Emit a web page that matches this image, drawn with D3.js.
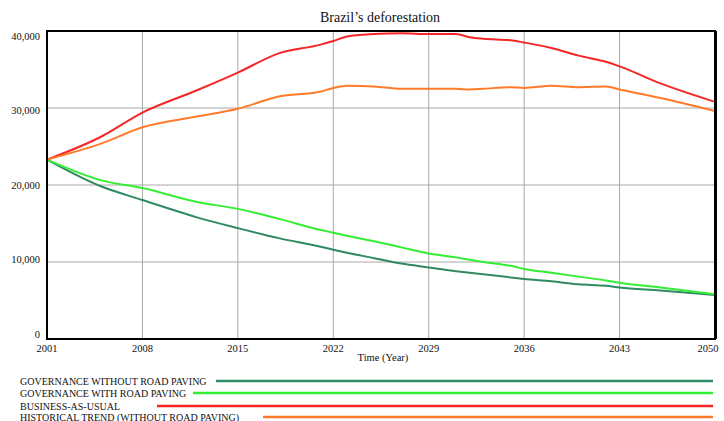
<!DOCTYPE html>
<html>
<head>
<meta charset="utf-8">
<script src="https://cdn.jsdelivr.net/npm/d3@7"></script>
<style>
  body { margin: 0; background: #fff; }
</style>
</head>
<body>
<svg id="chart" width="724" height="421"></svg>
<script>
// years (not every year, just where the curves bend)
const years = [2001, 2005, 2008, 2012, 2015, 2018, 2021, 2022, 2023, 2025, 2027, 2029,
  2031, 2032, 2033, 2035, 2036, 2038, 2040, 2042, 2043, 2046, 2050];

// thousands of ha
const govNoPaving = [23.3, 19.8, 18.05, 15.8, 14.4, 13.1, 12.0, 11.6, 11.2, 10.5, 9.8, 9.3,
  8.8, 8.6, 8.4, 8.0, 7.8, 7.5, 7.1, 6.9, 6.7, 6.3, 5.7];
const govPaving = [23.3, 20.6, 19.6, 17.8, 16.9, 15.6, 14.2, 13.8, 13.4, 12.7, 11.9, 11.1,
  10.6, 10.3, 10.0, 9.5, 9.1, 8.6, 8.1, 7.6, 7.3, 6.7, 5.8];
const businessAsUsual = [23.3, 26.3, 29.4, 32.3, 34.6, 37.1, 38.2, 38.7, 39.3, 39.6, 39.7, 39.6,
  39.6, 39.2, 39.0, 38.8, 38.5, 37.8, 36.8, 36.0, 35.4, 33.2, 30.8];
const historicalTrend = [23.3, 25.4, 27.5, 28.9, 29.9, 31.5, 32.1, 32.6, 32.9, 32.8, 32.5, 32.5,
  32.5, 32.4, 32.5, 32.7, 32.6, 32.9, 32.7, 32.8, 32.4, 31.3, 29.6];

const seriesNames = [
  "GOVERNANCE WITHOUT ROAD PAVING",
  "GOVERNANCE WITH ROAD PAVING",
  "BUSINESS-AS-USUAL",
  "HISTORICAL TREND (WITHOUT ROAD PAVING)"
];
const seriesValues = [govNoPaving, govPaving, businessAsUsual, historicalTrend];
const seriesColors = ["#2f8a62", "#33ee33", "#f62626", "#ff7b2a"];

const xTicks = [2001, 2008, 2015, 2022, 2029, 2036, 2043, 2050];
const yTicks = [0, 10000, 20000, 30000, 40000];

const svg = d3.select("#chart")
  .attr("font-family", "'Liberation Serif', 'Times New Roman', 'DejaVu Serif', serif")
  .attr("fill", "#111");
const pLeft = 47, pRight = 715, pTop = 31, pBottom = 339;

const x = d3.scaleLinear().domain([2001, 2050]).range([pLeft, pRight]);
const y = d3.scaleLinear().domain([0, 40000]).range([pBottom, pTop]);
// the tick labels in the original sit a bit off the grid lines
const yLab = d3.scaleLinear().domain([0, 40000]).range([334, 36]);

// title
svg.append("text")
  .attr("x", 380).attr("y", 22)
  .attr("text-anchor", "middle")
  .attr("font-size", 14)
  .text("Brazil\u2019s deforestation");

// grid
const grid = svg.append("g");
grid.selectAll("line.v").data(xTicks.slice(1, -1)).join("line")
  .attr("class", "v")
  .attr("x1", d => x(d)).attr("x2", d => x(d))
  .attr("y1", pTop).attr("y2", pBottom)
  .attr("stroke", "#a8a8a8").attr("stroke-width", 1);
grid.selectAll("line.h").data(yTicks.slice(1, -1)).join("line")
  .attr("class", "h")
  .attr("x1", pLeft).attr("x2", pRight)
  .attr("y1", d => y(d)).attr("y2", d => y(d))
  .attr("stroke", "#a8a8a8").attr("stroke-width", 1);

// curves
const line = d3.line()
  .x((d, i) => x(years[i]))
  .y(d => y(d * 1000))
  .curve(d3.curveMonotoneX);

svg.append("g").selectAll("path")
  .data(seriesValues)
  .join("path")
  .attr("d", line)
  .attr("fill", "none")
  .attr("stroke", (d, i) => seriesColors[i])
  .attr("stroke-width", 2);

// frame
svg.append("rect")
  .attr("x", pLeft).attr("y", pTop)
  .attr("width", pRight - pLeft).attr("height", pBottom - pTop)
  .attr("fill", "none").attr("stroke", "#000").attr("stroke-width", 2);
svg.append("line")
  .attr("x1", pRight + 1).attr("x2", pRight + 1).attr("y1", pTop).attr("y2", pBottom)
  .attr("stroke", "#000").attr("stroke-width", 2);

// y labels
svg.append("g").selectAll("text")
  .data(yTicks).join("text")
  .attr("x", 40).attr("y", d => yLab(d))
  .attr("dy", "0.35em")
  .attr("text-anchor", "end")
  .attr("font-size", 10.5)
  .text(d => d3.format(",")(d));

// x labels
svg.append("g").selectAll("text")
  .data(xTicks).join("text")
  .attr("x", d => Math.min(x(d), 708)).attr("y", 348)
  .attr("dy", "0.35em")
  .attr("text-anchor", "middle")
  .attr("font-size", 10.5)
  .text(d => d);

svg.append("text")
  .attr("x", 383).attr("y", 357)
  .attr("dy", "0.35em")
  .attr("text-anchor", "middle")
  .attr("font-size", 10.5)
  .text("Time (Year)");

// legend
const legY = [381, 393, 406, 417];
const legLineStart = [216, 193, 157, 263];
const leg = svg.append("g");
seriesNames.forEach((name, i) => {
  leg.append("text")
    .attr("x", 20).attr("y", legY[i])
    .attr("dy", "0.35em")
    .attr("font-size", 10)
    .text(name);
  leg.append("line")
    .attr("x1", legLineStart[i]).attr("x2", 713)
    .attr("y1", legY[i]).attr("y2", legY[i])
    .attr("stroke", seriesColors[i])
    .attr("stroke-width", 2.6);
});
</script>
</body>
</html>
